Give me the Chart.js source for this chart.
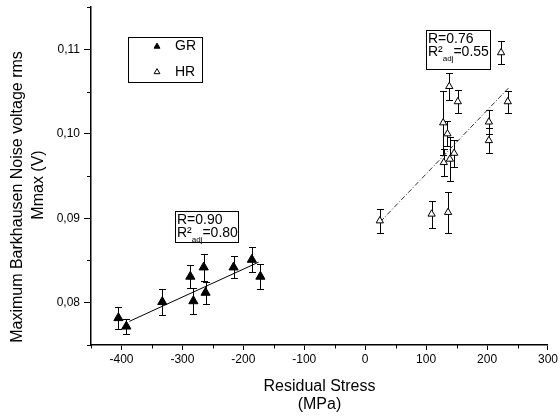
<!DOCTYPE html>
<html><head><meta charset="utf-8">
<script src="https://cdn.jsdelivr.net/npm/chart.js@4"></script>
<style>html,body{margin:0;padding:0;background:#fff}</style>
</head><body>
<canvas id="c" width="560" height="417"></canvas>
<script>
// ---- data ----
const grX = [-405, -392, -333, -287, -282, -265, -262, -216, -186, -172];
const grY = [0.0782, 0.0772, 0.0801, 0.0831, 0.0802, 0.0842, 0.0812, 0.0842, 0.0851, 0.0831];
const grErr = [0.0013, 0.0009, 0.0015, 0.0014, 0.0015, 0.0016, 0.0013, 0.0013, 0.0015, 0.0015];

const hrX = [24, 109, 136, 138, 152, 128, 135, 146, 129, 139, 203, 203, 234, 223];
const hrY = [0.0897, 0.0905, 0.0907, 0.1056, 0.1038, 0.1013, 0.1000, 0.0977, 0.0966, 0.0970, 0.1014, 0.0992, 0.1038, 0.1096];
const hrErr = [0.0014, 0.0016, 0.0024, 0.0016, 0.0014, 0.0038, 0.0015, 0.0016, 0.0016, 0.0026, 0.0014, 0.0015, 0.0013, 0.0014];

const grFitX = [-387, -175];
const grFitY = [0.0778, 0.0848];
const hrFitX = [25, 235];
const hrFitY = [0.0896, 0.1054];

const xMajor = [-400, -300, -200, -100, 0, 100, 200, 300];
const xMinor = [-450, -350, -250, -150, -50, 50, 150, 250];
const yMajor = [0.08, 0.09, 0.10, 0.11];
const yMinor = [0.075, 0.085, 0.095, 0.105, 0.115];

const seriesNames = ['GR', 'HR'];
const grStats = ['R=0.90', '=0.80'];
const hrStats = ['R=0.76', '=0.55'];
const xTitle = ['Residual Stress', '(MPa)'];
const yTitle = ['Maximum Barkhausen Noise voltage rms', 'Mmax (V)'];

const FONT = '"Liberation Sans", Arial, sans-serif';
const pts = (xs, ys) => xs.map((x, i) => ({x: x, y: ys[i]}));

function drawTri(ctx, x, y, r, fill) {
  ctx.beginPath();
  for (let k = 0; k < 3; k++) {
    const a = k * 2 * Math.PI / 3;
    const px = x + Math.sin(a) * r, py = y - Math.cos(a) * r;
    if (k === 0) ctx.moveTo(px, py); else ctx.lineTo(px, py);
  }
  ctx.closePath();
  ctx.fillStyle = fill ? '#000' : '#fff';
  ctx.fill();
  ctx.strokeStyle = '#000';
  ctx.lineWidth = 1;
  ctx.stroke();
}

function statBox(ctx, x0, y0, w, h, lines) {
  ctx.save();
  ctx.strokeStyle = '#000';
  ctx.lineWidth = 1;
  ctx.strokeRect(x0 + 0.5, y0 + 0.5, w, h);
  ctx.fillStyle = '#000';
  ctx.textAlign = 'left';
  ctx.textBaseline = 'alphabetic';
  ctx.font = '14px ' + FONT;
  ctx.fillText(lines[0], x0 + 2, y0 + 13);
  ctx.fillText('R\u00B2', x0 + 2, y0 + 26);
  const wR = ctx.measureText('R\u00B2').width;
  ctx.font = '8px ' + FONT;
  ctx.fillText('adj', x0 + 2 + wR, y0 + 31);
  const wA = ctx.measureText('adj').width;
  ctx.font = '14px ' + FONT;
  ctx.fillText(lines[1], x0 + 2 + wR + wA, y0 + 26);
  ctx.restore();
}

const deco = {
  id: 'deco',
  beforeDatasetsDraw(chart) {
    const ctx = chart.ctx, xs = chart.scales.x, ys = chart.scales.y;
    ctx.save();
    ctx.strokeStyle = '#000';
    ctx.lineWidth = 1;
    const bars = (X, Y, E, cap) => {
      X.forEach((xv, i) => {
        const px = Math.round(xs.getPixelForValue(xv)) + 0.5;
        const t = Math.round(ys.getPixelForValue(Y[i] + E[i])) + 0.5;
        const b = Math.round(ys.getPixelForValue(Y[i] - E[i])) + 0.5;
        ctx.beginPath();
        ctx.moveTo(px, t); ctx.lineTo(px, b);
        ctx.moveTo(px - cap, t); ctx.lineTo(px + cap, t);
        ctx.moveTo(px - cap, b); ctx.lineTo(px + cap, b);
        ctx.stroke();
      });
    };
    bars(grX, grY, grErr, 3.5);
    bars(hrX, hrY, hrErr, 3.5);
    ctx.restore();
  },
  afterDraw(chart) {
    const ctx = chart.ctx, xs = chart.scales.x, ys = chart.scales.y, ca = chart.chartArea;
    ctx.save();
    ctx.strokeStyle = '#000';
    ctx.lineWidth = 1;
    // minor ticks
    xMinor.forEach(v => {
      const px = Math.round(xs.getPixelForValue(v)) + 0.5;
      ctx.beginPath(); ctx.moveTo(px, ca.bottom); ctx.lineTo(px, ca.bottom + 3.5); ctx.stroke();
    });
    yMinor.forEach(v => {
      const py = Math.round(ys.getPixelForValue(v)) + 0.5;
      ctx.beginPath(); ctx.moveTo(ca.left, py); ctx.lineTo(ca.left - 4, py); ctx.stroke();
    });
    // axis titles
    ctx.fillStyle = '#000';
    ctx.font = '16px ' + FONT;
    ctx.textAlign = 'center';
    ctx.textBaseline = 'middle';
    const cx = (ca.left + ca.right) / 2;
    ctx.fillText(xTitle[0], cx, 387);
    ctx.fillText(xTitle[1], cx, 405);
    ctx.save();
    ctx.translate(18, 197);
    ctx.rotate(-Math.PI / 2);
    ctx.fillText(yTitle[0], 0, 0);
    ctx.restore();
    ctx.save();
    ctx.translate(39, 185);
    ctx.rotate(-Math.PI / 2);
    ctx.fillText(yTitle[1], 0, 0);
    ctx.restore();
    // legend
    ctx.strokeRect(128.5, 37.5, 74, 45);
    drawTri(ctx, 157, 46.5, 3.4, true);
    drawTri(ctx, 157, 72, 3.4, false);
    ctx.fillStyle = '#000';
    ctx.font = '14px ' + FONT;
    ctx.textAlign = 'left';
    ctx.textBaseline = 'middle';
    ctx.fillText(seriesNames[0], 175, 46);
    ctx.fillText(seriesNames[1], 175, 72);
    // stat boxes
    statBox(ctx, 175, 211, 63, 31, grStats);
    statBox(ctx, 426, 30, 64, 39, hrStats);
    ctx.restore();
  }
};

new Chart(document.getElementById('c'), {
  type: 'scatter',
  data: {
    datasets: [
      {label: seriesNames[0], data: pts(grX, grY), pointStyle: 'triangle', pointRadius: 5.3,
       backgroundColor: '#000', borderColor: '#000', borderWidth: 1, showLine: false},
      {label: seriesNames[1], data: pts(hrX, hrY), pointStyle: 'triangle', pointRadius: 4.2,
       backgroundColor: '#fff', borderColor: '#000', borderWidth: 1, showLine: false},
      {label: 'GR fit', data: pts(grFitX, grFitY), showLine: true, pointRadius: 0,
       borderColor: '#000', borderWidth: 1, fill: false},
      {label: 'HR fit', data: pts(hrFitX, hrFitY), showLine: true, pointRadius: 0,
       borderColor: '#333', borderWidth: 1, borderDash: [5, 2, 1, 2], fill: false}
    ]
  },
  options: {
    responsive: false,
    animation: false,
    devicePixelRatio: 1,
    layout: {padding: {top: 7, right: 12, left: 0, bottom: 0}},
    plugins: {legend: {display: false}, tooltip: {enabled: false}},
    scales: {
      x: {
        type: 'linear', min: -450, max: 300,
        afterBuildTicks: s => { s.ticks = xMajor.map(v => ({value: v})); },
        afterFit: s => { s.height = 72; },
        ticks: {color: '#000', font: {family: FONT, size: 12}, padding: 2, maxRotation: 0, autoSkip: false},
        grid: {drawOnChartArea: false, drawTicks: true, tickLength: 5, tickColor: '#000', tickWidth: 1},
        border: {display: true, color: '#000', width: 1.5}
      },
      y: {
        type: 'linear', min: 0.075, max: 0.115,
        afterBuildTicks: s => { s.ticks = yMajor.map(v => ({value: v})); },
        afterFit: s => { s.width = 91; s.paddingTop = 0; s.paddingBottom = 0; },
        ticks: {color: '#000', font: {family: FONT, size: 12}, padding: 4,
                callback: v => v.toFixed(2).replace('.', ',')},
        grid: {drawOnChartArea: false, drawTicks: true, tickLength: 7, tickColor: '#000', tickWidth: 1},
        border: {display: true, color: '#000', width: 1.5}
      }
    }
  },
  plugins: [deco]
});
</script>
</body></html>
